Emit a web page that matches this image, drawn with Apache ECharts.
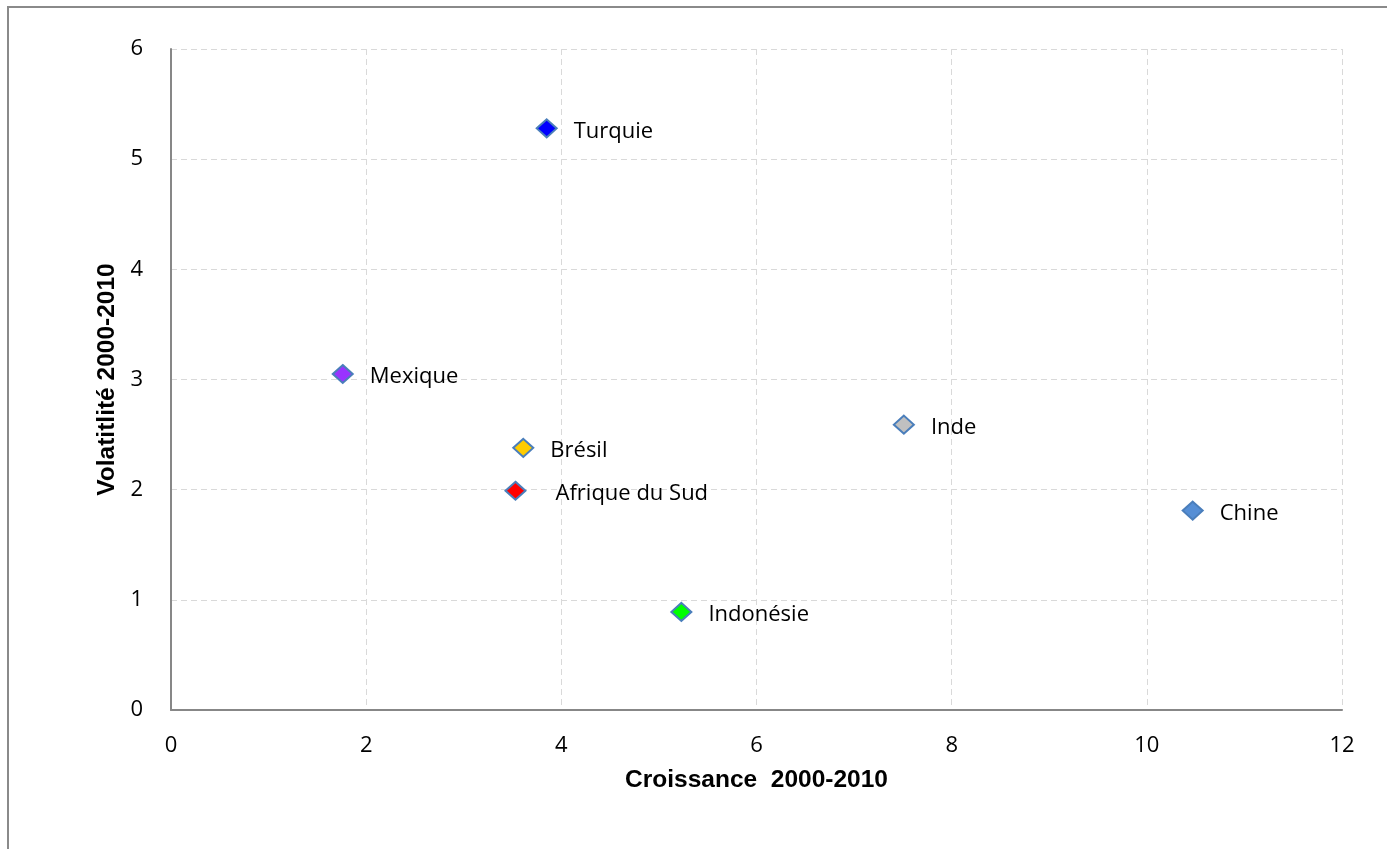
<!DOCTYPE html>
<html>
<head>
<meta charset="utf-8">
<script src="https://cdn.jsdelivr.net/npm/echarts@6/dist/echarts.min.js"></script>
<style>
  html, body { margin: 0; padding: 0; background: #ffffff; }
  #chart { width: 1387px; height: 849px; }
</style>
</head>
<body>
<div id="chart"></div>
<script>
// Croissance vs volatilité, 2000-2010
const countries = ['Turquie', 'Mexique', 'Brésil', 'Afrique du Sud', 'Inde', 'Chine', 'Indonésie'];
const growth = [3.85, 1.76, 3.61, 3.53, 7.51, 10.47, 5.23];
const volatility = [5.28, 3.05, 2.38, 1.99, 2.59, 1.81, 0.89];
const fills = ['#0000ff', '#9933ff', '#ffcc00', '#ff0000', '#c0c0c0', '#558ed5', '#00ff00'];

const xTitle = 'Croissance  2000-2010';
const yTitle = 'Volatitlité 2000-2010';

// labels further from their marker than the default
const labelDistance = { 'Afrique du Sud': 29 };

const chart = echarts.init(document.getElementById('chart'), null, { renderer: 'canvas' });

const points = countries.map((name, i) => ({
  name: name,
  value: [growth[i], volatility[i]],
  itemStyle: { color: fills[i] },
  label: { distance: labelDistance[name] !== undefined ? labelDistance[name] : 16 }
}));

const tickFont = { fontFamily: 'Open Sans', fontSize: 22, color: '#000000' };
const titleFont = { fontFamily: 'Liberation Sans', fontWeight: 'bold', fontSize: 24.5, color: '#000000' };
const gridLine = { show: true, lineStyle: { color: '#d9d9d9', type: [6, 4], width: 1 } };
const axisLine = { show: true, lineStyle: { color: '#878787', width: 2 } };

chart.setOption({
  animation: false,
  backgroundColor: '#ffffff',
  graphic: [{
    type: 'rect',
    shape: { x: 8, y: 7, width: 1500, height: 1000 },
    style: { fill: 'none', stroke: '#8a8a8a', lineWidth: 2 },
    silent: true
  }],
  grid: { left: 171, top: 49, width: 1171, height: 661, containLabel: false },
  xAxis: {
    type: 'value', min: 0, max: 12, interval: 2,
    name: xTitle, nameLocation: 'middle', nameGap: 58,
    nameTextStyle: titleFont,
    axisLine: axisLine, axisTick: { show: false },
    axisLabel: Object.assign({ margin: 25 }, tickFont),
    splitLine: gridLine
  },
  yAxis: {
    type: 'value', min: 0, max: 6, interval: 1,
    name: yTitle, nameLocation: 'middle', nameGap: 41, nameRotate: 90,
    nameTextStyle: titleFont,
    axisLine: axisLine, axisTick: { show: false },
    axisLabel: Object.assign({ margin: 28 }, tickFont),
    splitLine: gridLine
  },
  series: [{
    type: 'scatter',
    symbol: 'diamond',
    symbolSize: [20, 18],
    itemStyle: { borderColor: '#4a7ebb', borderWidth: 2, opacity: 1 },
    label: {
      show: true, position: 'right', offset: [0, 3],
      formatter: '{b}',
      fontFamily: 'Open Sans', fontSize: 22, color: '#000000'
    },
    data: points
  }]
});
</script>
</body>
</html>
